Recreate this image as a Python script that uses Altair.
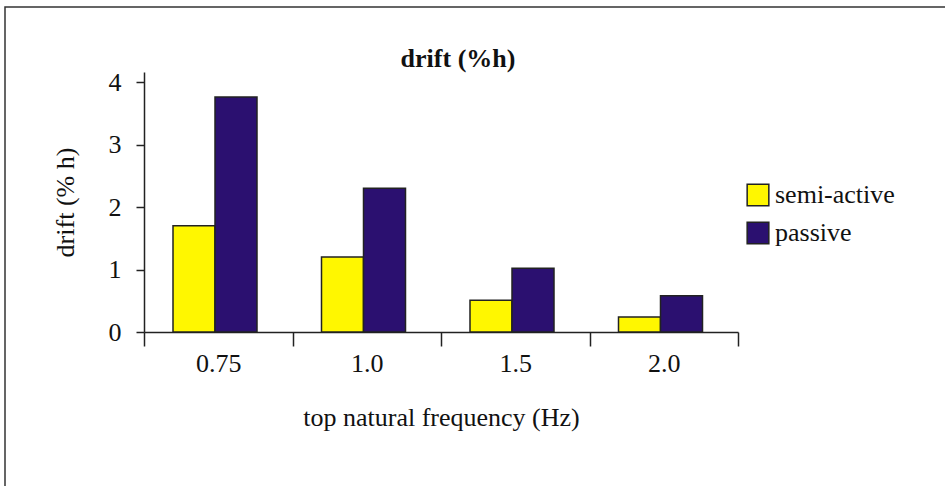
import altair as alt
import pandas as pd

categories = ["0.75", "1.0", "1.5", "2.0"]
semi_active = [1.70, 1.20, 0.51, 0.24]
passive = [3.76, 2.30, 1.02, 0.58]
series = ["semi-active", "passive"]
colors = ["#FFF700", "#2B1070"]
y_ticks = [0, 1, 2, 3, 4]
title_text = "drift (%h)"

rows = []
for c, s, p in zip(categories, semi_active, passive):
    rows.append({"freq": c, "type": "semi-active", "drift": s})
    rows.append({"freq": c, "type": "passive", "drift": p})
df = pd.DataFrame(rows)

FONT = "Liberation Serif"
one = pd.DataFrame({"t": [title_text]})

frame = alt.Chart(one).mark_rect(
    fill="white", fillOpacity=0, stroke="#333333", strokeWidth=1.5
).encode(
    x=alt.value(-139), x2=alt.value(810),
    y=alt.value(-65), y2=alt.value(430),
)

title = alt.Chart(one).mark_text(
    font=FONT, fontSize=26, fontWeight="bold", align="center", baseline="alphabetic",
    color="#111111",
).encode(x=alt.value(314), y=alt.value(-5), text="t:N")

bars = alt.Chart(df).mark_bar(stroke="#222222", strokeWidth=1.5).encode(
    x=alt.X("freq:N", sort=categories,
            scale=alt.Scale(paddingInner=0, paddingOuter=0),
            axis=alt.Axis(title="top natural frequency (Hz)", labelAngle=0,
                          tickBand="extent", tickSize=14, tickWidth=1.5,
                          domainWidth=1.5, domainColor="#222222", tickColor="#222222",
                          labelPadding=4, titlePadding=28)),
    xOffset=alt.XOffset("type:N", sort=series,
                        scale=alt.Scale(range=[29, 113], paddingInner=0, paddingOuter=0)),
    y=alt.Y("drift:Q", scale=alt.Scale(domain=[0, 4.16], nice=False),
            axis=alt.Axis(title="drift (% h)", values=y_ticks, grid=False,
                          tickSize=8, tickWidth=1.5, domainWidth=1.5,
                          domainColor="#222222", tickColor="#222222",
                          labelPadding=15, titlePadding=30)),
    color=alt.Color("type:N", sort=series,
                    scale=alt.Scale(domain=series, range=colors),
                    legend=alt.Legend(title=None, orient="none", legendX=601, legendY=110,
                                      symbolType="square", symbolSize=470,
                                      symbolStrokeColor="#222222", symbolStrokeWidth=1.5,
                                      labelFontSize=26, labelFont=FONT, rowPadding=10,
                                      labelOffset=4, labelColor="#111111")),
)

chart = alt.layer(frame, bars, title).properties(
    width=594, height=260,
    background="white",
    autosize=alt.AutoSizeParams(type="none"),
    padding={"left": 144, "top": 72, "right": 207, "bottom": 154},
).configure_view(stroke=None).configure_axis(
    labelFont=FONT, titleFont=FONT, labelFontSize=26, titleFontSize=26,
    labelColor="#111111", titleColor="#111111", titleFontWeight="normal",
)

chart.save("out.html", embed_options={"renderer": "svg", "actions": False})
